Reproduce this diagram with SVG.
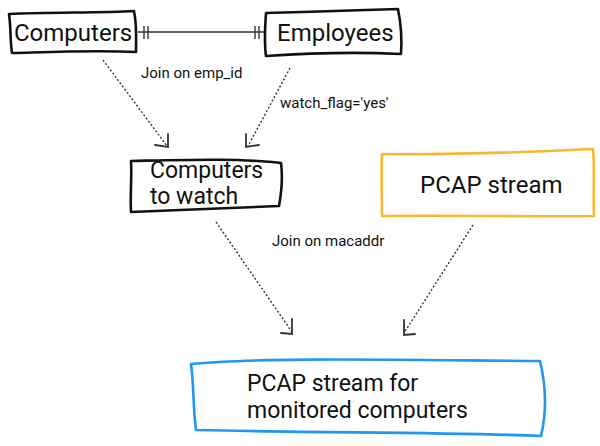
<svg xmlns="http://www.w3.org/2000/svg" width="600" height="446" viewBox="0 0 600 446">
<style>
.box{fill:none;stroke:#111;stroke-width:2.6;stroke-linejoin:round;stroke-linecap:round}
.t{font-family:Roboto,"Liberation Sans",sans-serif;fill:#111}
.big{font-size:24px}
.mid{font-size:23px}
.lbl{font-size:15px}
.dot{fill:none;stroke:#333;stroke-width:1.4;stroke-dasharray:2 2}
.head{fill:none;stroke:#333;stroke-width:1.8;stroke-linecap:round}
</style>
<rect width="600" height="446" fill="#fff"/>
<g id="connectors">
<path d="M138 32 L264 32" fill="none" stroke="#333" stroke-width="1.6"/>
<path d="M144 26 V39 M148 26 V39 M255 26 V39 M259 26 V39" fill="none" stroke="#333" stroke-width="1.4"/>
<path class="dot" d="M103 60 L167 146"/>
<path class="head" d="M168 134 L168 147 L155 145"/>
<path class="dot" d="M290 68 L248 146"/>
<path class="head" d="M246 134 L246 147 L259 145"/>
<path class="dot" d="M216 222 L292 332"/>
<path class="head" d="M292 319 L292 334 L281 333"/>
<path class="dot" d="M473 225 L404 333"/>
<path class="head" d="M404 320 L404 335 L415 334"/>
</g>
<g id="computers">
<path class="box" d="M9 14 C50 12 100 13 134 11 C137 25 136 38 136 52 C95 50 50 52 12 53 C10 40 11 27 9 14 Z"/>
<text class="t big" x="14" y="41">Computers</text>
</g>
<g id="employees">
<path class="box" d="M266 13 C310 12 355 10 398 9 C401 24 402 40 401 54 C360 52 310 53 266 56 C264 42 265 27 266 13 Z"/>
<text class="t big" x="277" y="41">Employees</text>
</g>
<g id="label-emp">
<text class="t lbl" x="141" y="78">Join on emp_id</text>
</g>
<g id="label-flag">
<text class="t lbl" x="280" y="108">watch_flag='yes'</text>
</g>
<g id="computers-to-watch">
<path class="box" d="M131 161 C180 160 240 158 281 163 C283 178 281 195 279 206 C230 208 180 210 131 212 C130 195 132 178 131 161 Z"/>
<text class="t mid" x="150" y="178">Computers</text>
<text class="t mid" x="150" y="204">to watch</text>
</g>
<g id="pcap-stream">
<path d="M382 154 C450 155 530 152 593 149 C595 170 593 195 594 216 C530 217 450 215 382 216 C382 195 381 175 382 154 Z" fill="none" stroke="#F7B733" stroke-width="2.6" stroke-linejoin="round"/>
<text class="t big" x="420" y="193">PCAP stream</text>
</g>
<g id="label-mac">
<text class="t lbl" x="272" y="246">Join on macaddr</text>
</g>
<g id="pcap-monitored">
<path d="M191 364 C260 357 400 360 540 361 C547 390 546 415 541 436 C450 432 320 433 196 430 C193 410 194 385 191 364 Z" fill="none" stroke="#2196F3" stroke-width="2.6" stroke-linejoin="round"/>
<text class="t mid" x="247" y="391">PCAP stream for</text>
<text class="t mid" x="247" y="418">monitored computers</text>
</g>
</svg>
